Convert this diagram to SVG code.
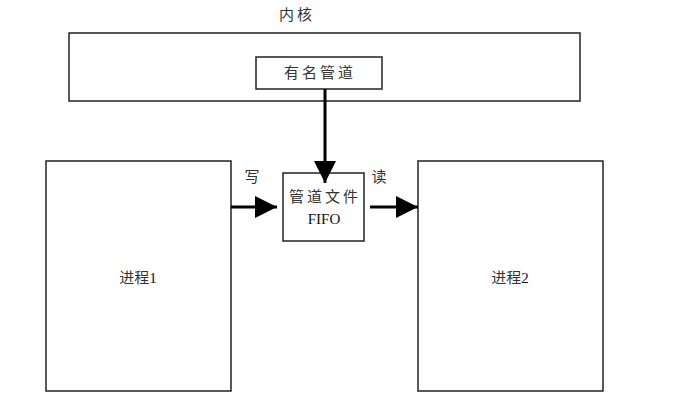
<svg xmlns="http://www.w3.org/2000/svg" width="690" height="399" viewBox="0 0 690 399">
<defs>
<style>
.box{fill:#fff;stroke:#222;stroke-width:1.5}
.t{font-family:"Liberation Serif","Noto Sans CJK SC",serif;font-size:15px;fill:#333;text-anchor:middle;dominant-baseline:central}
.ls{letter-spacing:3px}
.d{fill:#111}
.arr{stroke:#000;stroke-width:3;fill:none}
</style>
<marker id="ah" markerUnits="userSpaceOnUse" markerWidth="22" markerHeight="22" refX="22" refY="11" orient="auto">
<path d="M0,0 L22,11 L0,22 Z" fill="#000"/>
</marker>
</defs>
<rect width="690" height="399" fill="#fff"/>
<text class="t ls" x="297" y="15">内核</text>
<g id="kernel"><rect class="box" x="69" y="33" width="511" height="68"/></g>
<g id="named-pipe"><rect class="box" x="256" y="57" width="126" height="32"/><text class="t ls" x="320" y="73">有名管道</text></g>
<g id="fifo"><rect class="box" x="283" y="173" width="81" height="68"/><text class="t ls" x="325" y="197">管道文件</text><text class="t d" x="324" y="219">FIFO</text></g>
<g id="proc1"><rect class="box" x="46" y="161" width="185" height="230"/><text class="t" x="138" y="278">进程<tspan class="d">1</tspan></text></g>
<g id="proc2"><rect class="box" x="418" y="161" width="185" height="230"/><text class="t" x="510" y="278">进程<tspan class="d">2</tspan></text></g>
<g id="connectors">
<line class="arr" x1="325" y1="89" x2="325" y2="183" marker-end="url(#ah)"/>
<line class="arr" x1="231" y1="207" x2="277" y2="207" marker-end="url(#ah)"/>
<line class="arr" x1="370" y1="207" x2="418" y2="207" marker-end="url(#ah)"/>
<text class="t" x="252" y="177">写</text>
<text class="t" x="379" y="177">读</text>
</g>
</svg>
